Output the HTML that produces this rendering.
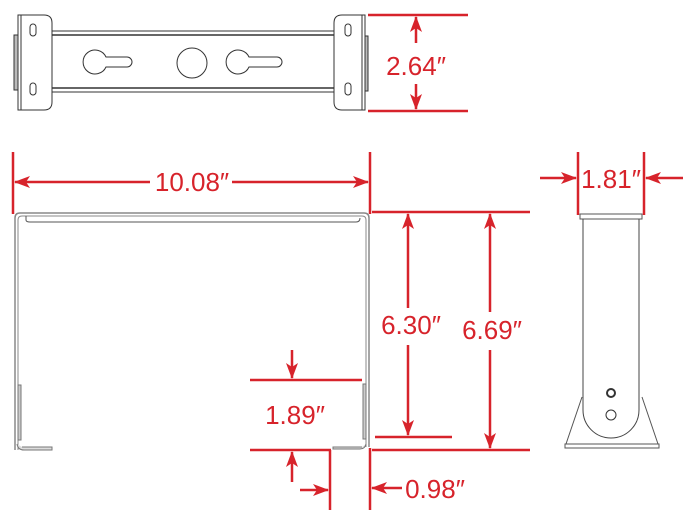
<!DOCTYPE html>
<html><head><style>html,body{margin:0;padding:0;background:#fff}svg{display:block}text{font-family:"Liberation Sans",sans-serif;fill:#d7232b;font-size:26px}</style></head><body>
<svg width="698" height="518" viewBox="0 0 698 518" xmlns="http://www.w3.org/2000/svg">
<defs>
<marker id="a" viewBox="0 0 16 12" refX="15" refY="6" markerWidth="16" markerHeight="12" markerUnits="userSpaceOnUse" orient="auto"><path d="M0,0 L16,6 L0,12 L4,6 Z" fill="#d7232b"/></marker>
</defs>
<g fill="none" stroke="#333" stroke-width="1">
<path d="M18,15 H44 Q52,15 52,23 V102 Q52,110 44,110 H18 Z"/>
<rect x="14" y="35" width="4" height="55" fill="#bbb"/>
<line x1="21" y1="15" x2="21" y2="110"/>
<path d="M365,15 H342 Q334,15 334,23 V102 Q334,110 342,110 H365 Z"/>
<rect x="365" y="36" width="3" height="55" fill="#bbb"/>
<line x1="362" y1="15" x2="362" y2="110"/>
<line x1="52" y1="31" x2="334" y2="31"/><line x1="52" y1="35" x2="334" y2="35" stroke-width="1.5"/>
<line x1="52" y1="88" x2="334" y2="88" stroke-width="1.5"/><line x1="52" y1="92" x2="334" y2="92"/>
<rect x="30" y="24" width="6" height="12" rx="3"/><rect x="30" y="83" width="6" height="12" rx="3"/>
<rect x="345" y="24" width="6" height="12" rx="3"/><rect x="345" y="83" width="6" height="12" rx="3"/>
<path d="M106,57 A12,12 0 1 0 106,67 H127 A5,5 0 0 0 127,57 Z"/>
<circle cx="192" cy="63" r="15"/>
<path d="M249,57 A12,12 0 1 0 249,67 H277 A5,5 0 0 0 277,57 Z"/>
<path d="M15,450 V218 Q15,213 20,213 H364 Q369,213 369,218 V447" stroke="#888" stroke-width="1.5"/>
<path d="M18,450 V220 Q18,216 22,216 H362 Q366,216 366,220 V447" stroke="#888"/>
<path d="M26,216 V220 Q26,222 30,222 H356 Q360,222 360,218" stroke="#555"/>
<rect x="18" y="385" width="3" height="55" fill="#ccc" stroke="#777"/>
<path d="M17,444 Q18,450 24,450 H52 V447 H22" stroke="#777" fill="#ddd"/>
<rect x="363" y="384" width="3" height="55" fill="#ccc" stroke="#777"/>
<path d="M366,444 Q365,449 360,449 H333 V447 H362" stroke="#777" fill="#ddd"/>
<rect x="580" y="214" width="62" height="5" stroke="#555"/>
<path d="M583,219 V410 A28,28 0 0 0 639,410 V219" stroke="#444"/>
<path d="M582,397 L566,444 H658 L642,397" stroke="#555"/>
<rect x="565" y="444" width="94" height="4" stroke="#555"/>
<circle cx="611" cy="393" r="4" stroke-width="2"/>
<circle cx="611" cy="415" r="5"/>
</g>
<g stroke="#d7232b" stroke-width="2.5" fill="none">
<line x1="368" y1="15" x2="468" y2="15"/><line x1="368" y1="111" x2="468" y2="111"/>
<line x1="416" y1="43" x2="416" y2="17" marker-end="url(#a)"/><line x1="416" y1="84" x2="416" y2="109" marker-end="url(#a)"/>
<line x1="13" y1="152" x2="13" y2="214"/><line x1="370" y1="152" x2="370" y2="214"/>
<line x1="150" y1="182" x2="15" y2="182" marker-end="url(#a)"/><line x1="232" y1="182" x2="368" y2="182" marker-end="url(#a)"/>
<line x1="372" y1="212" x2="530" y2="212"/><line x1="375" y1="437" x2="452" y2="437"/><line x1="372" y1="450" x2="530" y2="450"/>
<line x1="408" y1="308" x2="408" y2="214" marker-end="url(#a)"/><line x1="408" y1="345" x2="408" y2="435" marker-end="url(#a)"/>
<line x1="490" y1="312" x2="490" y2="214" marker-end="url(#a)"/><line x1="490" y1="350" x2="490" y2="448" marker-end="url(#a)"/>
<line x1="250" y1="380" x2="362" y2="380"/><line x1="250" y1="450" x2="331" y2="450"/>
<line x1="292" y1="350" x2="292" y2="378" marker-end="url(#a)"/><line x1="292" y1="482" x2="292" y2="452" marker-end="url(#a)"/>
<line x1="330" y1="450" x2="330" y2="510"/><line x1="370" y1="448" x2="370" y2="510"/>
<line x1="300" y1="490" x2="328" y2="490" marker-end="url(#a)"/><line x1="402" y1="488" x2="372" y2="488" marker-end="url(#a)"/>
<line x1="578" y1="152" x2="578" y2="215"/><line x1="644" y1="152" x2="644" y2="215"/>
<line x1="540" y1="178" x2="576" y2="178" marker-end="url(#a)"/><line x1="683" y1="178" x2="646" y2="178" marker-end="url(#a)"/>
</g>
<text x="416" y="75" text-anchor="middle">2.64″</text>
<text x="192" y="191" text-anchor="middle">10.08″</text>
<text x="411" y="334" text-anchor="middle">6.30″</text>
<text x="492" y="339" text-anchor="middle">6.69″</text>
<text x="295" y="424" text-anchor="middle">1.89″</text>
<text x="435" y="498" text-anchor="middle">0.98″</text>
<text x="611" y="188" text-anchor="middle">1.81″</text>
</svg>
</body></html>
